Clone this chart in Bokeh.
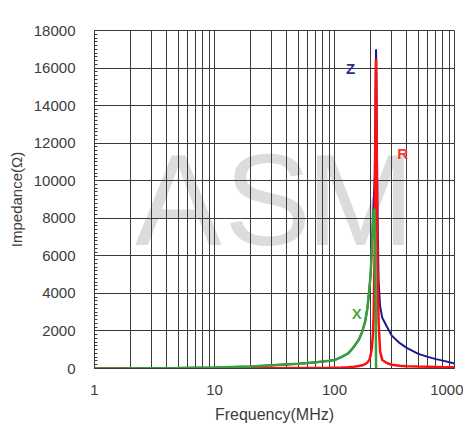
from bokeh.plotting import figure
from bokeh.models import FixedTicker, SingleIntervalTicker, Label
from bokeh.embed import file_html
from bokeh.resources import INLINE

# ---- data ----
freq_mhz = [1, 2, 5, 10, 20, 50, 60, 70, 80, 90, 100, 115, 130, 145, 160, 170,
            180, 188, 195, 200, 205, 209, 212, 216, 219, 221, 222, 223, 225,
            228, 233, 240, 250, 275, 300, 350, 400, 500, 600, 700, 800, 1000]
z_ohm = [5, 10, 25, 50, 100, 250, 290, 330, 370, 410, 450, 620, 800, 1150,
         1550, 1950, 2500, 3200, 4200, 5000, 6600, 7900, 8800, 10200, 13400,
         16000, 17000, 15800, 13400, 8500, 4700, 3300, 2700, 2200, 1750, 1350,
         1100, 780, 620, 500, 420, 270]
r_ohm = [2, 3, 5, 8, 12, 20, 22, 25, 30, 35, 40, 55, 70, 95, 130, 170, 230,
         320, 450, 700, 1100, 1800, 2800, 6000, 12000, 15800, 16500, 15500,
         11000, 6000, 2500, 900, 450, 280, 200, 150, 120, 100, 90, 80, 75, 70]
x_ohm = [5, 10, 25, 50, 100, 250, 290, 330, 370, 410, 450, 620, 800, 1150,
         1550, 1950, 2500, 3200, 4200, 5000, 6500, 7600, 8300, 8500, 6000, 2500,
         0, -3000, -7500, -6000, -4000, -3200, -2400, -2000, -1600, -1300,
         -1000, -780, -620, -500, -420, -270]
x_ticks = [1, 10, 100, 1000]
x_tick_labels = ["1", "10", "100", "1000"]
y_tick_step = 2000
y_label = "Impedance(\u03a9)"
x_label = "Frequency(MHz)"
watermark = ["A", "S", "M"]
curve_labels = ["Z", "R", "X"]

FONT = "Liberation Sans"
TXT = "#3c3c3c"
GRID = "#3a3a3a"

p = figure(width=463, height=425, x_axis_type="log", x_range=(1, 1000),
           y_range=(0, 18000), output_backend="svg", toolbar_location=None,
           min_border_left=94, min_border_right=9, min_border_top=30,
           min_border_bottom=57)
p.background_fill_color = "white"
p.border_fill_color = "white"
p.outline_line_color = GRID
p.outline_line_width = 1

# watermark letters
for ch, xv in zip(watermark, (5.0, 27.7, 164.0)):
    p.add_layout(Label(x=xv, y=8950, text=ch, text_font=FONT,
                       text_font_size="130px", text_color="#dcdcdc",
                       text_align="center", text_baseline="middle",
                       level="image"))

# axes / ticks
minor = [m * 10 ** k for k in range(3) for m in range(2, 10)]
p.xaxis.ticker = FixedTicker(ticks=x_ticks, minor_ticks=minor)
p.xaxis.major_label_overrides = {t: s for t, s in zip(x_ticks, x_tick_labels)}
p.yaxis.ticker = SingleIntervalTicker(interval=y_tick_step, num_minor_ticks=10)

for ax in (p.xaxis, p.yaxis):
    ax.axis_line_color = GRID
    ax.major_tick_in = 0
    ax.major_tick_out = 0
    ax.major_label_text_font = FONT
    ax.major_label_text_font_size = "15px"
    ax.major_label_text_color = TXT
    ax.axis_label_text_font = FONT
    ax.axis_label_text_font_style = "normal"
    ax.axis_label_text_color = TXT

p.xaxis.minor_tick_in = 0
p.xaxis.minor_tick_out = 0
p.yaxis.minor_tick_in = 3
p.yaxis.minor_tick_out = 0
p.yaxis.minor_tick_line_color = GRID

p.xaxis.axis_label = x_label
p.yaxis.axis_label = y_label
p.xaxis.axis_label_text_font_size = "16px"
p.yaxis.axis_label_text_font_size = "15px"
p.xaxis.major_label_standoff = 16
p.yaxis.major_label_standoff = 19
p.xaxis.axis_label_standoff = 8
p.yaxis.axis_label_standoff = 6

p.xgrid.grid_line_color = GRID
p.xgrid.minor_grid_line_color = GRID
p.ygrid.grid_line_color = GRID
p.xgrid.grid_line_width = 1
p.ygrid.grid_line_width = 1

# curves
p.line(freq_mhz, z_ohm, line_color="#1c1a8a", line_width=2)
p.line(freq_mhz, r_ohm, line_color="#ff1010", line_width=2.5)
p.line(freq_mhz, x_ohm, line_color="#3a9e3a", line_width=2.5)

# curve labels
for txt, xv, yv, col in zip(curve_labels, (136, 369, 153), (15975, 11450, 2930),
                            ("#2e2c8c", "#f03a3a", "#4aaa4a")):
    p.add_layout(Label(x=xv, y=yv, text=txt, text_font=FONT,
                       text_font_size="15px", text_font_style="bold",
                       text_color=col, text_align="center",
                       text_baseline="middle"))

open("out.html", "w").write(file_html(p, INLINE))
